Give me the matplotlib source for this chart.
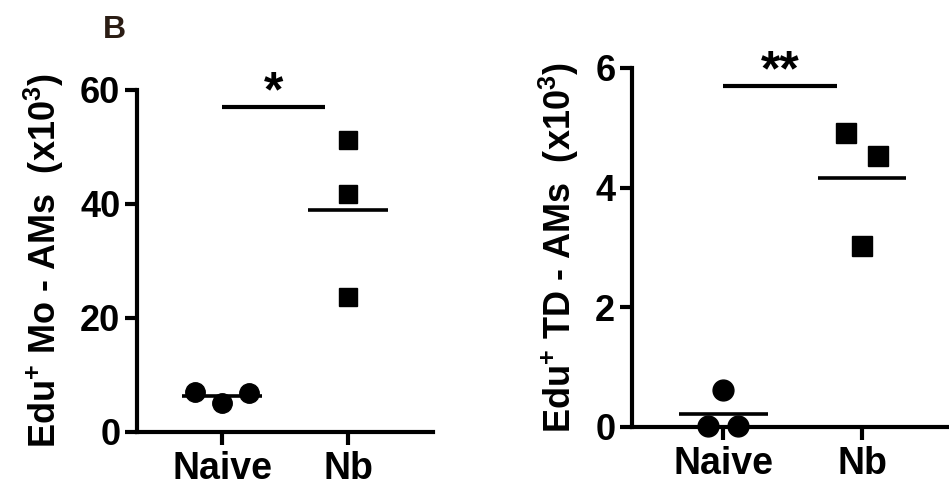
import matplotlib
matplotlib.use('Agg')
import matplotlib.pyplot as plt
import numpy as np

plt.rcParams['font.family'] = ['Liberation Sans', 'DejaVu Sans']
plt.rcParams['font.weight'] = 'bold'
plt.rcParams['mathtext.fontset'] = 'custom'
plt.rcParams['mathtext.rm'] = 'Liberation Sans:bold'
plt.rcParams['mathtext.bf'] = 'Liberation Sans:bold'
plt.rcParams['mathtext.default'] = 'rm'

# DATA

groups = ['Naive', 'Nb']

mo_naive = [7.0, 5.1, 6.8]
mo_nb    = [51.2, 41.8, 23.7]

td_naive = [0.02, 0.62, 0.02]
td_nb    = [4.92, 4.53, 3.03]

mo_sig = '*'
td_sig = '**'
mo_bar_y = 57.0
td_bar_y = 5.70

LW = 3.0


def panel(ax, naive, nb, naive_dx, nb_dx, ylim, yticks, ylabel, bar_y, sig, xlim, msz):
    ax.plot(np.zeros(3) + naive_dx, naive, 'o', color='black', ms=msz, clip_on=False, zorder=3)
    ax.plot(np.ones(3) + nb_dx, nb, 's', color='black', ms=msz - 1, clip_on=False, zorder=3)
    for i, vals in enumerate([naive, nb]):
        ax.hlines(np.mean(vals), i - 0.32, i + 0.32, color='black', lw=2.6, clip_on=False)
    ax.hlines(bar_y, 0.0, 0.82, color='black', lw=LW, clip_on=False)
    ax.annotate(sig, (0.41, bar_y), xytext=(0, -7), textcoords='offset points',
                ha='center', va='bottom', fontsize=36, fontweight='bold')

    ax.set_xlim(*xlim)
    ax.set_ylim(*ylim)
    ax.set_xticks([0, 1])
    ax.set_xticklabels(groups, fontsize=27)
    ax.set_yticks(yticks)
    ax.set_ylabel(ylabel, fontsize=26, fontweight='bold', labelpad=10)
    ax.tick_params(width=LW, length=9)
    ax.tick_params(axis='y', labelsize=26, pad=3)
    ax.tick_params(axis='x', pad=5)
    for s in ['top', 'right']:
        ax.spines[s].set_visible(False)
    for s in ['left', 'bottom']:
        ax.spines[s].set_linewidth(LW)
    ax.patch.set_visible(False)


fig = plt.figure(figsize=(9.49, 4.88), dpi=100)

ax1 = fig.add_axes([0.1444, 0.1148, 0.3119, 0.7008])
panel(ax1, mo_naive, mo_nb, np.array([-0.214, 0.0, 0.214]), np.zeros(3),
      (0, 60), [0, 20, 40, 60], 'Edu$^{+}$ Mo - AMs  (x10$^{3}$)',
      mo_bar_y, mo_sig, (-0.675, 1.675), 14)

ax2 = fig.add_axes([0.666, 0.125, 0.334, 0.7357])
panel(ax2, td_naive, td_nb, np.array([-0.108, 0.0, 0.108]), np.array([-0.115, 0.115, 0.0]),
      (0, 6), [0, 2, 4, 6], 'Edu$^{+}$ TD - AMs  (x10$^{3}$)',
      td_bar_y, td_sig, (-0.655, 1.626), 15)

fig.text(0.121, 0.938, 'B', fontsize=23, fontweight='bold', color='#2b1d14',
         ha='center', va='center')

fig.savefig('out.png', dpi=100)
